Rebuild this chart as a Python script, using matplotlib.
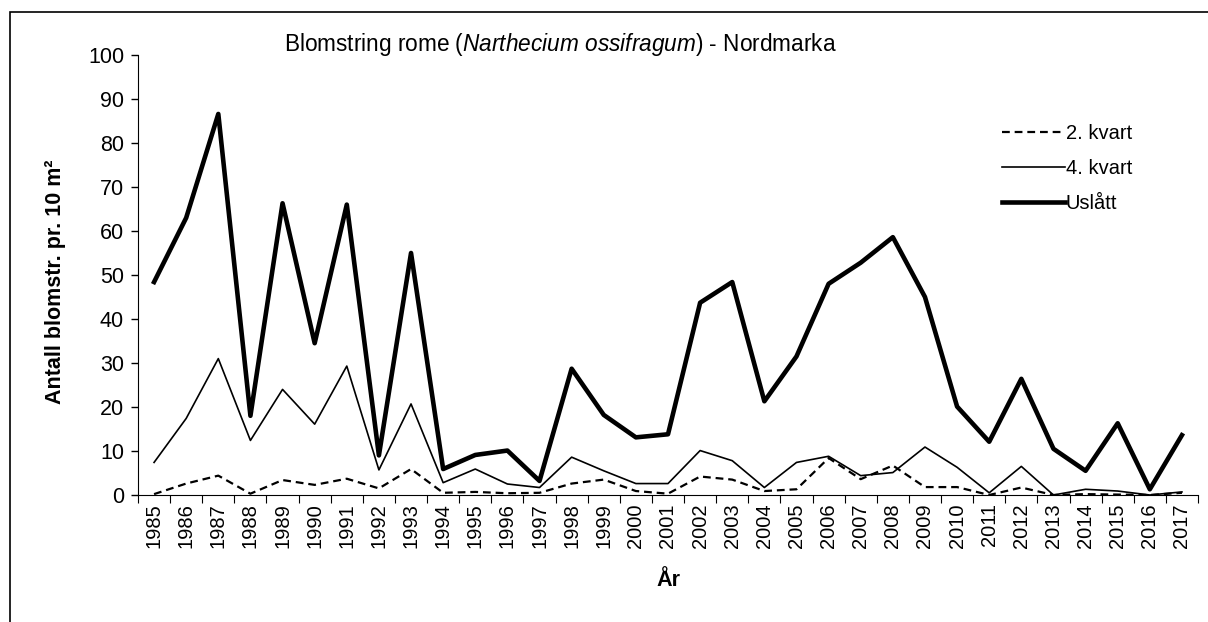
import matplotlib
matplotlib.use("Agg")
import matplotlib.pyplot as plt
from matplotlib.patches import Rectangle

plt.rcParams['font.family'] = ['Liberation Sans', 'DejaVu Sans']
plt.rcParams['mathtext.fontset'] = 'custom'
plt.rcParams['mathtext.rm'] = 'Liberation Sans'
plt.rcParams['mathtext.it'] = 'Liberation Sans:italic'

years = list(range(1985, 2018))
kvart2 = [0.2, 2.6, 4.4, 0.3, 3.4, 2.3, 3.7, 1.5, 5.9, 0.5, 0.7, 0.4, 0.5,
          2.6, 3.5, 0.9, 0.3, 4.2, 3.5, 0.9, 1.3, 8.4, 3.6, 6.7, 1.8, 1.8,
          0.0, 1.7, 0.0, 0.2, 0.1, 0.0, 0.5]
kvart4 = [7.4, 17.4, 31.0, 12.4, 24.0, 16.1, 29.3, 5.7, 20.7, 2.8, 5.9, 2.5, 1.7,
          8.6, 5.5, 2.6, 2.6, 10.1, 7.8, 1.7, 7.4, 8.8, 4.4, 5.1, 10.9, 6.3,
          0.5, 6.5, 0.0, 1.3, 0.9, 0.0, 0.7]
uslatt = [48.4, 63.0, 86.6, 18.0, 66.3, 34.5, 66.0, 9.0, 55.0, 5.9, 9.1, 10.1, 3.2,
          28.7, 18.2, 13.1, 13.8, 43.7, 48.4, 21.3, 31.5, 48.0, 52.8, 58.6, 45.0, 20.1,
          12.1, 26.4, 10.5, 5.5, 16.3, 1.3, 13.6]

fig = plt.figure(figsize=(12.08, 6.22), dpi=100)
ax = fig.add_axes([138 / 1208, 1 - 495 / 622, 1060 / 1208, 440 / 622])

x = list(range(len(years)))
ax.plot(x, kvart2, color='black', lw=1.6, linestyle=(0, (3.5, 2.2)), label='2. kvart')
ax.plot(x, kvart4, color='black', lw=1.2, label='4. kvart')
ax.plot(x, uslatt, color='black', lw=3.3, label='Uslått')

ax.set_xlim(-0.5, len(years) - 0.5)
ax.set_ylim(0, 100)
ax.set_yticks(range(0, 101, 10))
ax.tick_params(axis='y', labelsize=15.5, length=5, direction='out', width=1, pad=5)
ax.set_xticks([i - 0.5 for i in range(len(years) + 1)])
ax.set_xticklabels([])
ax.set_xticks(x, minor=True)
ax.set_xticklabels([str(y) for y in years], minor=True, rotation=90, fontsize=14.5)
ax.tick_params(axis='x', which='major', length=6, direction='out')
ax.tick_params(axis='x', which='minor', length=0, pad=6)
for s in ['top', 'right']:
    ax.spines[s].set_visible(False)

leg = ax.legend(loc='upper left', bbox_to_anchor=(984 / 1208, 1 - 106 / 622),
                bbox_transform=fig.transFigure, frameon=False, fontsize=14.5,
                handlelength=3.1, handletextpad=0.05, labelspacing=0.8)

fig.text(560 / 1208, 1 - 44 / 622,
         r"Blomstring rome ($\mathit{Narthecium\ ossifragum)}$ - Nordmarka",
         ha='center', va='center', fontsize=16.3)
fig.text(56 / 1208, 1 - 282 / 622, "Antall blomstr. pr. 10 m²", rotation=90,
         ha='center', va='center', fontsize=15.5, fontweight='bold')
fig.text(668 / 1208, 1 - 580 / 622, "År", ha='center', va='center',
         fontsize=15.5, fontweight='bold')

fig.patches.append(Rectangle((10 / 1208, -0.2), 1.3, 1.2 - 12 / 622,
                             transform=fig.transFigure, fill=False,
                             edgecolor='black', lw=1.2))

fig.savefig('out.png', dpi=100)
